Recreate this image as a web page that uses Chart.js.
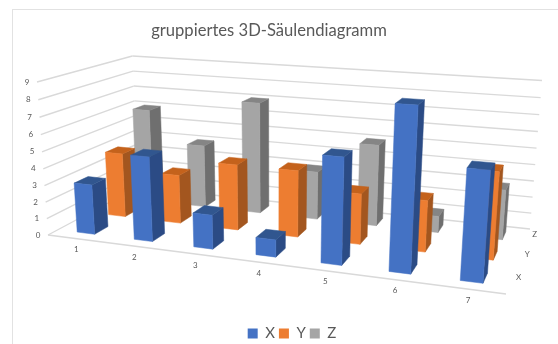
<!DOCTYPE html>
<html>
<head>
<meta charset="utf-8">
<script src="https://cdn.jsdelivr.net/npm/chart.js@4/dist/chart.umd.min.js"></script>
<style>
    html, body { margin: 0; padding: 0; background: #fff; overflow: hidden; }
    #wrap { position: relative; width: 558px; height: 344px; overflow: hidden; }
    #frame { position: absolute; left: 12px; top: 9px; width: 600px; height: 400px; border: 1.5px solid #e2e2e2; }
    canvas { position: absolute; left: 0; top: 0; }
</style>
</head>
<body>
<div id="wrap">
    <div id="frame"></div>
    <canvas id="chart" width="558" height="344"></canvas>
</div>
<script>
const categories = ['1', '2', '3', '4', '5', '6', '7'];
const seriesNames = ['X', 'Y', 'Z'];
const valuesX = [3, 5, 2, 1, 6, 9, 6];
const valuesY = [4, 3, 4, 4, 3, 3, 5];
const valuesZ = [6, 4, 7, 3, 5, 1, 3];
const yMax = 9;

const faceColors = [
    { front: '#4472C4', side: '#2B4B85', top: '#31568F' },
    { front: '#ED7D31', side: '#A3561F', top: '#C4621C' },
    { front: '#A5A5A5', side: '#6F6F6F', top: '#858585' }
];

// box floor in page pixels: front-left, front-right, back-right, back-left
const floorCorners = [[48, 235], [506, 294], [530, 229], [138, 187]];
// top of the box above the front-left and back-right floor corners
const topFrontLeft = [37, 82];
const topBackRight = [542, 77];
const barDepth = 0.42;

// perspective camera: floor homography plus a height column
function makeCamera(q, tl, tr) {
    const [[x0, y0], [x1, y1], [x2, y2], [x3, y3]] = q;
    const dx1 = x1 - x2, dx2 = x3 - x2, sx = x0 - x1 + x2 - x3;
    const dy1 = y1 - y2, dy2 = y3 - y2, sy = y0 - y1 + y2 - y3;
    const den = dx1 * dy2 - dx2 * dy1;
    const g = (sx * dy2 - dx2 * sy) / den;
    const h = (dx1 * sy - sx * dy1) / den;
    const a = x1 - x0 + g * x1, b = x3 - x0 + h * x3;
    const d = y1 - y0 + g * y1, e = y3 - y0 + h * y3;
    const k = ((x2 - tr[0]) * (g + h + 1) + tl[0] - x0) / (tr[0] - tl[0]);
    const cx = tl[0] * (k + 1) - x0;
    const cy = tl[1] * (k + 1) - y0;
    return (u, v, z) => {
        const w = g * u + h * v + k * z + 1;
        return [(a * u + b * v + cx * z + x0) / w, (d * u + e * v + cy * z + y0) / w];
    };
}

const project = makeCamera(floorCorners, topFrontLeft, topBackRight);

function line(ctx, a, b) {
    ctx.beginPath();
    ctx.moveTo(a[0], a[1]);
    ctx.lineTo(b[0], b[1]);
    ctx.stroke();
}

function face(ctx, pts, color) {
    ctx.fillStyle = color;
    ctx.strokeStyle = color;
    ctx.lineWidth = 0.5;
    ctx.beginPath();
    pts.forEach((p, i) => i ? ctx.lineTo(p[0], p[1]) : ctx.moveTo(p[0], p[1]));
    ctx.closePath();
    ctx.fill();
    ctx.stroke();
}

function drawWalls(chart) {
    const ctx = chart.ctx;
    const yScale = chart.scales.y;
    const area = chart.chartArea;
    ctx.save();
    ctx.strokeStyle = '#d9d9d9';
    ctx.lineWidth = 1.4;
    ctx.fillStyle = '#595959';
    ctx.font = '8px Lato';
    ctx.textAlign = 'center';
    ctx.textBaseline = 'middle';
    yScale.ticks.forEach(tick => {
        const h = (area.bottom - yScale.getPixelForValue(tick.value)) / area.height;
        const front = project(0, 0, h);
        const back = project(0, 1, h);
        line(ctx, front, back);
        line(ctx, back, project(1, 1, h));
        ctx.fillText(String(tick.value), front[0] - 10, front[1]);
    });
    line(ctx, project(0, 0, 0), project(1, 0, 0));
    ctx.restore();
}

function drawAxisLabels(chart) {
    const ctx = chart.ctx;
    const xScale = chart.scales.x;
    const area = chart.chartArea;
    ctx.save();
    ctx.fillStyle = '#595959';
    ctx.font = '8px Lato';
    ctx.textAlign = 'center';
    ctx.textBaseline = 'middle';
    categories.forEach((name, i) => {
        const u = (xScale.getPixelForValue(i) - area.left) / area.width;
        const p = project(u, 0, 0);
        ctx.fillText(name, p[0], p[1] + 11);
    });
    seriesNames.forEach((name, j) => {
        const p = project(1, (j + 0.5) / seriesNames.length, 0);
        ctx.fillText(name, p[0] + 8, p[1] - 4);
    });
    ctx.restore();
}

function drawBar(ctx, bar, j, area) {
    const cols = seriesNames.length;
    const u = (bar.x - area.left) / area.width;
    const du = bar.width / area.width / 2;
    const v = (j + 0.5) / cols;
    const dv = barDepth / cols / 2;
    const h = (bar.base - bar.y) / area.height;
    const c = faceColors[j];
    const corner = (su, sv, top) => project(u + su * du, v + sv * dv, top ? h : 0);
    face(ctx, [corner(1, -1, 0), corner(1, 1, 0), corner(1, 1, 1), corner(1, -1, 1)], c.side);
    face(ctx, [corner(-1, -1, 1), corner(1, -1, 1), corner(1, 1, 1), corner(-1, 1, 1)], c.top);
    face(ctx, [corner(-1, -1, 0), corner(1, -1, 0), corner(1, -1, 1), corner(-1, -1, 1)], c.front);
}

const box3d = {
    id: 'box3d',
    afterLayout(chart) {
        // title and legend sit slightly off the canvas centre
        chart.titleBlock.left -= 10;
        chart.titleBlock.right -= 10;
        chart.legend.left += 13;
        chart.legend.right += 13;
        chart.legend.top += 7;
        chart.legend.bottom += 7;
    },
    beforeDatasetsDraw(chart) {
        const ctx = chart.ctx;
        drawWalls(chart);
        drawAxisLabels(chart);
        // back row first so the front rows cover it
        for (let j = chart.data.datasets.length - 1; j >= 0; j--) {
            chart.getDatasetMeta(j).data.forEach(bar => drawBar(ctx, bar, j, chart.chartArea));
        }
        return false;
    }
};

new Chart(document.getElementById('chart').getContext('2d'), {
    type: 'bar',
    data: {
        labels: categories,
        datasets: [valuesX, valuesY, valuesZ].map((values, j) => ({
            label: seriesNames[j],
            data: values,
            backgroundColor: faceColors[j].front,
            grouped: false,
            categoryPercentage: 1,
            barPercentage: 0.31
        }))
    },
    options: {
        responsive: false,
        animation: false,
        plugins: {
            tooltip: { enabled: false },
            title: {
                display: true,
                text: 'gruppiertes 3D-Säulendiagramm',
                color: '#595959',
                font: { family: 'Lato', size: 16.6, weight: 'normal' },
                padding: { top: 21, bottom: 6 }
            },
            legend: {
                position: 'bottom',
                labels: {
                    color: '#595959',
                    font: { family: 'Lato', size: 15 },
                    boxWidth: 10,
                    boxHeight: 10,
                    padding: 4
                }
            }
        },
        scales: {
            x: { display: false },
            y: { display: false, min: 0, max: yMax, ticks: { stepSize: 1 } }
        }
    },
    plugins: [box3d]
});
</script>
</body>
</html>
